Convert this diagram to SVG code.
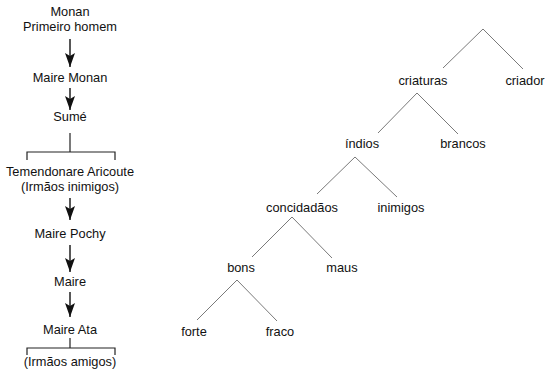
<svg xmlns="http://www.w3.org/2000/svg" width="548" height="375" viewBox="0 0 548 375">
  <style>
    text { font-family: "Liberation Sans", Arial, sans-serif; font-size: 12.8px; fill: #111; text-anchor: middle; }
    .arrow { stroke: #111; stroke-width: 1.4; fill: none; marker-end: url(#head); }
    .bracket { stroke: #222; stroke-width: 1.2; fill: none; }
    .branch { stroke: #7a7a7a; stroke-width: 1; fill: none; }
  </style>
  <defs>
    <marker id="head" viewBox="0 0 14 10" refX="14" refY="5" markerWidth="14" markerHeight="10" markerUnits="userSpaceOnUse" orient="auto">
      <path d="M0,0 L3,5 L0,10 L14,5 Z" fill="#111"/>
    </marker>
  </defs>
  <rect width="548" height="375" fill="#fff"/>

  <!-- lineage column -->
  <g id="monan"><text x="70" y="16">Monan</text><text x="70" y="31">Primeiro homem</text></g>
  <g id="maire-monan"><text x="70" y="82">Maire Monan</text></g>
  <g id="sume"><text x="70" y="121">Sumé</text></g>
  <g id="temendonare"><text x="70" y="176">Temendonare Aricoute</text><text x="70" y="191">(Irmãos inimigos)</text></g>
  <g id="maire-pochy"><text x="70" y="238">Maire Pochy</text></g>
  <g id="maire"><text x="70" y="286">Maire</text></g>
  <g id="maire-ata"><text x="70" y="334">Maire Ata</text></g>
  <g id="irmaos-amigos"><text x="70" y="366">(Irmãos amigos)</text></g>

  <!-- classification tree -->
  <g id="criaturas"><text x="423" y="85">criaturas</text></g>
  <g id="criador"><text x="525" y="85">criador</text></g>
  <g id="indios"><text x="362" y="148">índios</text></g>
  <g id="brancos"><text x="463" y="148">brancos</text></g>
  <g id="concidadaos"><text x="302" y="212">concidadãos</text></g>
  <g id="inimigos"><text x="401" y="212">inimigos</text></g>
  <g id="bons"><text x="241" y="272">bons</text></g>
  <g id="maus"><text x="342" y="272">maus</text></g>
  <g id="forte"><text x="194" y="336">forte</text></g>
  <g id="fraco"><text x="280" y="336">fraco</text></g>

  <g id="connectors">
    <!-- descent arrows -->
    <line class="arrow" x1="70" y1="39" x2="70" y2="67"/>
    <line class="arrow" x1="70" y1="88" x2="70" y2="110"/>
    <line class="arrow" x1="70" y1="198" x2="70" y2="220"/>
    <line class="arrow" x1="70" y1="245" x2="70" y2="272"/>
    <line class="arrow" x1="70" y1="292" x2="70" y2="317"/>
    <!-- sibling brackets -->
    <path class="bracket" d="M70,133 V152 M27,160 V152 H115 V160"/>
    <path class="bracket" d="M70,338 V348 M27,355 V348 H115 V355"/>
    <!-- tree branches -->
    <path class="branch" d="M443,68 L483,29 L523,69"/>
    <path class="branch" d="M378,133 L417,93 L458,134"/>
    <path class="branch" d="M317,194 L355,157 L397,197"/>
    <path class="branch" d="M252,257 L292,217 L332,258"/>
    <path class="branch" d="M197,320 L237,280 L277,321"/>
  </g>
</svg>
